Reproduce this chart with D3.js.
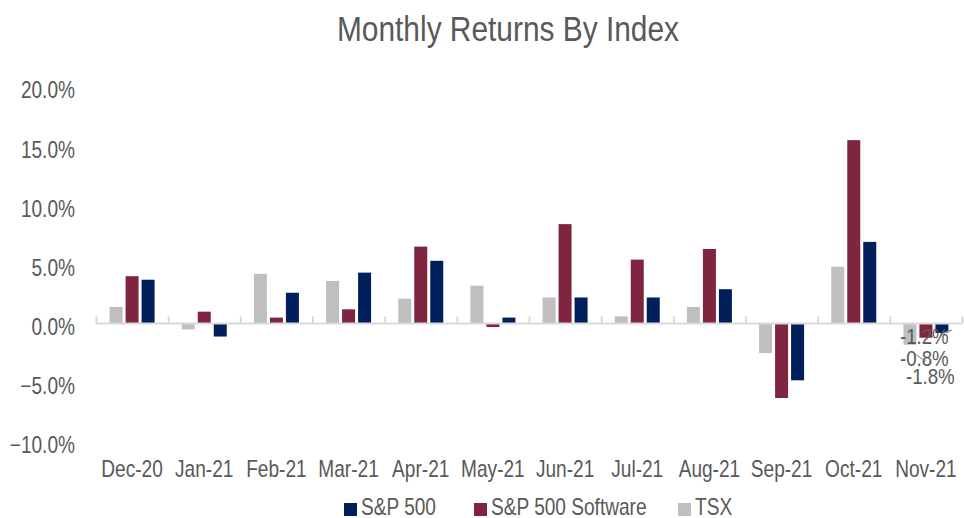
<!DOCTYPE html>
<html>
<head>
<meta charset="utf-8">
<script src="https://cdn.jsdelivr.net/npm/d3@7"></script>
<style>
  html, body { margin: 0; padding: 0; background: #ffffff; }
  svg { display: block; }
  text { font-family: "Liberation Sans", Arial, sans-serif; fill: #595959; }
</style>
</head>
<body>
<svg id="chart" width="964" height="518"></svg>
<script>
// ---- Data ----
const categories = ["Dec-20","Jan-21","Feb-21","Mar-21","Apr-21","May-21","Jun-21","Jul-21","Aug-21","Sep-21","Oct-21","Nov-21"];
const seriesNames = ["TSX", "S&P 500 Software", "S&P 500"];
const tsx      = [1.4, -0.5, 4.2, 3.6, 2.1, 3.2, 2.2, 0.6, 1.4, -2.5, 4.8, -1.8];
const software = [4.0,  1.0, 0.5, 1.2, 6.5, -0.3, 8.4, 5.4, 6.3, -6.3, 15.5, -1.2];
const sp500    = [3.7, -1.1, 2.6, 4.3, 5.3, 0.5, 2.2, 2.2, 2.9, -4.8, 6.9, -0.8];
const yTicks = [-10, -5, 0, 5, 10, 15, 20];
const legendOrder = ["S&P 500", "S&P 500 Software", "TSX"];
const novLabels = ["-1.2%", "-0.8%", "-1.8%"];

const colors = { "TSX": "#bfbfbf", "S&P 500 Software": "#7f2540", "S&P 500": "#001f5b" };
const valuesBySeries = { "TSX": tsx, "S&P 500 Software": software, "S&P 500": sp500 };

const SX = 0.83; // horizontal text compression of the reference
const svg = d3.select("#chart");

function txt(g, x, y, s, size, anchor) {
  return g.append("text")
    .attr("transform", `translate(${x},${y}) scale(${SX},1)`)
    .attr("font-size", size)
    .attr("text-anchor", anchor || "start")
    .text(s);
}

// ---- Scales ----
const x0 = d3.scaleBand().domain(categories).range([96, 962]).padding(0);
const x1 = d3.scaleBand().domain(seriesNames).range([0, 45]).paddingInner(0.1875).paddingOuter(0);
const y = d3.scaleLinear().domain([-10, 20]).range([441.8, 86.9]);

// ---- Title ----
txt(svg, 508, 41, "Monthly Returns By Index", 36, "middle");

// ---- Y axis labels ----
yTicks.forEach(v => {
  txt(svg, 75, y(v) + 11.5, d3.format(".1f")(v) + "%", 23, "end");
});

// ---- Bars ----
const barG = svg.append("g");
categories.forEach((c, i) => {
  const cx = x0(c) + x0.bandwidth() / 2 - 22.5;
  seriesNames.forEach(s => {
    const v = valuesBySeries[s][i];
    barG.append("rect")
      .attr("x", cx + x1(s))
      .attr("width", x1.bandwidth())
      .attr("y", Math.min(y(v), y(0)))
      .attr("height", Math.abs(y(v) - y(0)))
      .attr("fill", colors[s]);
  });
});

// ---- Zero axis with category ticks ----
svg.append("line")
  .attr("x1", 96).attr("x2", 962)
  .attr("y1", y(0)).attr("y2", y(0))
  .attr("stroke", "#d9d9d9").attr("stroke-width", 2);
const tickPos = categories.map(c => x0(c)).concat([x0.range()[1]]);
tickPos.forEach(px => {
  svg.append("line")
    .attr("x1", px + 0.5).attr("x2", px + 0.5)
    .attr("y1", y(0)).attr("y2", y(0) - 7)
    .attr("stroke", "#d9d9d9").attr("stroke-width", 2);
});

// ---- Category labels ----
categories.forEach(c => {
  txt(svg, x0(c) + x0.bandwidth() / 2, 477, c, 23, "middle");
});

// ---- Nov-21 data labels with leader lines ----
const novX = x0("Nov-21") + x0.bandwidth() / 2;
svg.append("line").attr("x1", novX + 14).attr("y1", y(0) + 11.5).attr("x2", novX + 26).attr("y2", y(0) + 6.5)
  .attr("stroke", "#a6a6a6").attr("stroke-width", 1.5);
svg.append("line").attr("x1", novX - 11).attr("y1", y(0) + 30.5).attr("x2", novX).attr("y2", y(0) + 38)
  .attr("stroke", "#a6a6a6").attr("stroke-width", 1.5);
const labelOffsets = [[-26, 20], [-26, 42.5], [-20, 60]];
novLabels.forEach((l, i) => {
  txt(svg, novX + labelOffsets[i][0], y(0) + labelOffsets[i][1], l, 22.5, "start");
});

// ---- Legend ----
const legendX = [344, 474, 678];
legendOrder.forEach((s, i) => {
  svg.append("rect")
    .attr("x", legendX[i]).attr("y", 503)
    .attr("width", 13).attr("height", 13)
    .attr("fill", colors[s]);
  txt(svg, legendX[i] + 17, 514.5, s, 23, "start");
});
</script>
</body>
</html>
